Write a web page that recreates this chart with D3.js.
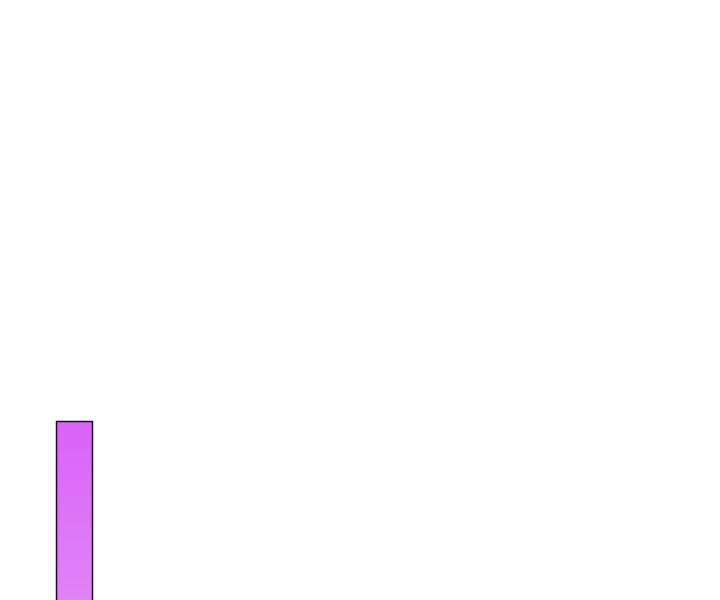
<!DOCTYPE html>
<html><head><meta charset="utf-8">
<script src="https://cdn.jsdelivr.net/npm/d3@7"></script>
<style>html,body{margin:0;padding:0;background:#fff;overflow:hidden;}</style>
</head><body>
<svg id="chart" width="720" height="600"></svg>
<script>
const categories = ["A"];
const values = [31.5];
const svg = d3.select("#chart");
const defs = svg.append("defs");
const grad = defs.append("linearGradient").attr("id","g").attr("x1",0).attr("y1",0).attr("x2",0).attr("y2",1);
grad.append("stop").attr("offset","0%").attr("stop-color","#da62f9");
grad.append("stop").attr("offset","100%").attr("stop-color","#e086f6");
const x = d3.scaleBand().domain(categories).range([56.5, 92.5]).padding(0);
const y = d3.scaleLinear().domain([0, 100]).range([610, 10]);
svg.selectAll("rect.bar").data(values).enter().append("rect")
  .attr("class","bar")
  .attr("x",(d,i)=>x(categories[i]))
  .attr("width",x.bandwidth())
  .attr("y",d=>y(d)+0.5)
  .attr("height",d=>y(0)-y(d))
  .attr("fill","url(#g)")
  .attr("stroke","#161020")
  .attr("stroke-width",1.5);
</script>
</body></html>
